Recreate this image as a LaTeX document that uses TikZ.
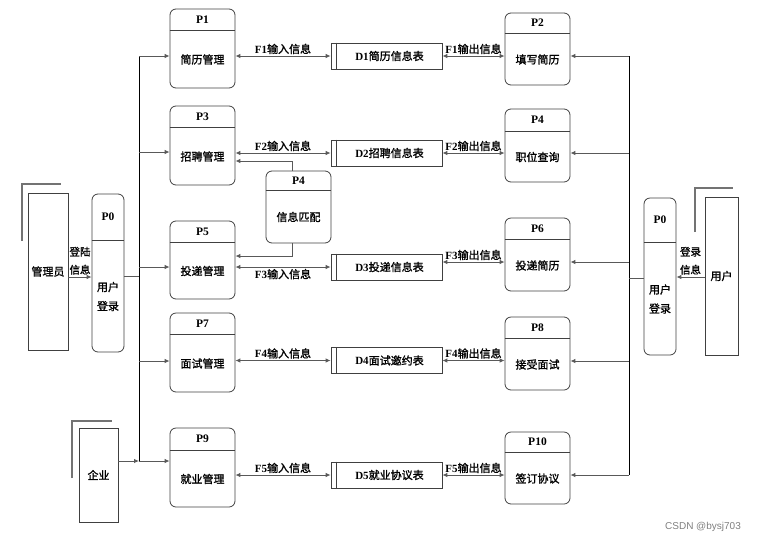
\documentclass[tikz,border=0pt]{standalone}
\usepackage{fontspec}
\setmainfont{Liberation Serif}
\setsansfont{Liberation Sans}
\newfontfamily\cjk[FakeBold=1.3]{Noto Sans CJK SC}
\usetikzlibrary{arrows.meta, positioning}

\tikzset{
  proc/.style={draw=black!75, rounded corners=6pt, line width=0.8pt, inner sep=0pt},
  store/.style={draw=black!75, line width=0.8pt, minimum width=111pt, minimum height=26pt, inner sep=0pt, font=\fontsize{11}{12}\selectfont},
  entity/.style={draw=black!75, line width=0.8pt, inner sep=0pt, font=\cjk\fontsize{11}{12}\selectfont},
  shade/.style={draw=black!55, line width=1.2pt},
  head/.style={font=\bfseries\fontsize{11.5}{12}\selectfont, inner sep=0pt},
  body/.style={font=\cjk\fontsize{11}{19}\selectfont, align=center, inner sep=0pt},
  lbl/.style={font=\fontsize{11}{12}\selectfont, inner sep=1.5pt},
  flow/.style={draw=black!65, line width=0.9pt, -{Latex[length=5pt,width=4.5pt]}},
  dflow/.style={flow, {Latex[length=5pt,width=4.5pt]}-{Latex[length=5pt,width=4.5pt]}},
  line/.style={draw=black!65, line width=0.9pt},
  bus/.style={draw=black, line width=0.9pt},
}
\newcommand{\zh}[1]{{\cjk #1}}
% [header height]{name}{centre}{width}{height}{id}{text}
\newcommand{\proc}[7][22]{%
  \node[proc, minimum width=#4, minimum height=#5] (#2) at #3 {};
  \draw[draw=black!75, line width=0.8pt] ([yshift=-#1]#2.north west) -- ([yshift=-#1]#2.north east);
  \node[head] at ([yshift=-#1/2]#2.north) {#6};
  \node[body] at ([yshift=-#1/2]#2.center) {#7};
}

\begin{document}
\begin{tikzpicture}[x=1pt, y=-1pt]
\useasboundingbox (0,0) rectangle (765,544);

% external entities
\node[entity, minimum width=40, minimum height=157] (admin) at (48,271.5) {管理员};
\node[entity, minimum width=39, minimum height=94] (firm) at (98.5,475) {企业};
\node[entity, minimum width=33, minimum height=158] (user) at (721.5,276) {用户};
\draw[shade] (22,241) -- (22,184) -- (61,184);
\draw[shade] (72,478) -- (72,421) -- (112,421);
\draw[shade] (695,232) -- (695,188) -- (733,188);

% processes
\proc[47]{P0L}{(108,273)}{32}{158}{P0}{用户\\登录}
\proc[45]{P0R}{(660,276.5)}{32}{157}{P0}{用户\\登录}
\proc{P1}{(202.5,48.5)}{65}{79}{P1}{简历管理}
\proc{P3}{(202.5,145.5)}{65}{79}{P3}{招聘管理}
\proc{P5}{(202.5,260)}{65}{78}{P5}{投递管理}
\proc{P7}{(202.5,352.5)}{65}{79}{P7}{面试管理}
\proc[23]{P9}{(202.5,467.5)}{65}{79}{P9}{就业管理}
\proc[20]{P4}{(298.5,207)}{65}{72}{P4}{信息匹配}
\proc[21]{P2}{(537.5,49)}{65}{72}{P2}{填写简历}
\proc[23]{P4r}{(537.5,145.5)}{65}{73}{P4}{职位查询}
\proc{P6}{(537.5,254.5)}{65}{73}{P6}{投递简历}
\proc{P8}{(537.5,353.5)}{65}{73}{P8}{接受面试}
\proc[21]{P10}{(537.5,468)}{65}{72}{P10}{签订协议}

% data stores
\foreach \n/\y/\t in {1/56/简历信息表, 2/153/招聘信息表, 3/267/投递信息表, 4/360.5/面试邀约表, 5/475/就业协议表} {
  \node[store] (D\n) at (386.5,\y) {\hspace{6pt}\textbf{D\n}\zh{\t}};
  \draw[draw=black!75, line width=0.8pt] ([xshift=6]D\n.north west) -- ([xshift=6]D\n.south west);
}

% flows between processes and stores
\draw[dflow] (P1.east |- D1.west) -- (D1.west) node[midway, above, lbl] {\textbf{F1}\zh{输入信息}};
\draw[dflow] (P3.east |- D2.west) -- (D2.west) node[midway, above, lbl] {\textbf{F2}\zh{输入信息}};
\draw[dflow] (P5.east |- D3.west) -- (D3.west) node[midway, below, lbl] {\textbf{F3}\zh{输入信息}};
\draw[dflow] (P7.east |- D4.west) -- (D4.west) node[midway, above, lbl] {\textbf{F4}\zh{输入信息}};
\draw[dflow] (P9.east |- D5.west) -- (D5.west) node[midway, above, lbl] {\textbf{F5}\zh{输入信息}};
\draw[dflow] (D1.east) -- (D1.east -| P2.west) node[midway, above, lbl] {\textbf{F1}\zh{输出信息}};
\draw[dflow] (D2.east) -- (D2.east -| P4r.west) node[midway, above, lbl] {\textbf{F2}\zh{输出信息}};
\draw[dflow] ([yshift=5]D3.east) -- ([yshift=5]D3.east -| P6.west) node[midway, above, lbl] {\textbf{F3}\zh{输出信息}};
\draw[dflow] (D4.east) -- (D4.east -| P8.west) node[midway, above, lbl] {\textbf{F4}\zh{输出信息}};
\draw[dflow] (D5.east) -- (D5.east -| P10.west) node[midway, above, lbl] {\textbf{F5}\zh{输出信息}};

% matching
\draw[flow] ([xshift=-6]P4.north) |- ([yshift=-15.5]P3.east);
\draw[flow] ([xshift=-6]P4.south) |- ([yshift=4]P5.east);

% left bus
\coordinate (ltop) at (139,56);
\coordinate (lbot) at (139,461);
\coordinate (lj) at (139,276);
\draw[bus] (ltop) -- (lbot);
\foreach \p/\y in {P1/56, P3/152, P5/267, P7/361, P9/461} {
  \coordinate (l\p) at (139,\y);
  \draw[flow] (l\p) -- (l\p -| \p.west);
}
\draw[flow] (admin.east |- 0,277) -- (P0L.west |- 0,277)
  node[midway, above, body, font=\cjk\fontsize{10.5}{18}\selectfont, yshift=2pt] {登陆\\信息};
\draw[line] ([yshift=-3]P0L.east) -- (lj);
\draw[flow] ([yshift=14]firm.east) -- (lP9);

% right bus
\coordinate (rtop) at (629,56);
\coordinate (rbot) at (629,475);
\coordinate (rj) at (629,278);
\draw[bus] (rtop) -- (rbot);
\foreach \p/\y in {P2/56, P4r/153, P6/262, P8/361, P10/475} {
  \coordinate (r\p) at (629,\y);
  \draw[flow] (r\p) -- (r\p -| \p.east);
}
\draw[flow] ([yshift=-1]user.west) -- ([yshift=-1]user.west -| P0R.east)
  node[midway, above, body, font=\cjk\fontsize{10.5}{18}\selectfont, yshift=2pt] {登录\\信息};
\draw[line] ([yshift=-1.5]P0R.west) -- (rj);

\node[font=\sffamily\fontsize{10}{12}\selectfont, text=black!50] (mark) at (703,527) {CSDN @bysj703};
\end{tikzpicture}
\end{document}
